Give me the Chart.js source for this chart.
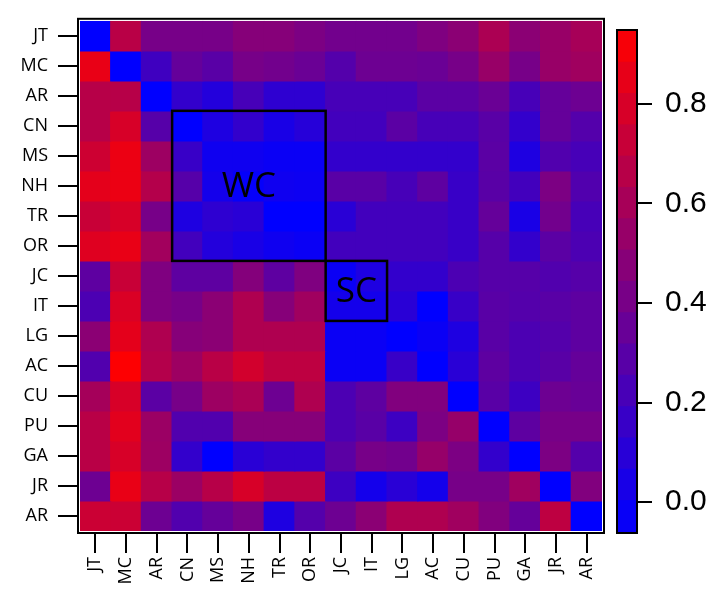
<!DOCTYPE html>
<html>
<head>
<meta charset="utf-8">
<script src="https://cdn.jsdelivr.net/npm/chart.js@4/dist/chart.umd.min.js"></script>
<style>
  body { margin: 0; background: #fff; }
  #heat { position: absolute; left: 0; top: 0; }
  #bar { position: absolute; left: 600px; top: 0; }
</style>
</head>
<body>
<canvas id="heat" width="716" height="590"></canvas>
<canvas id="bar" width="116" height="590"></canvas>
<script>
// row / column names (same order on both axes)
var names = ['JT', 'MC', 'AR', 'CN', 'MS', 'NH', 'TR', 'OR', 'JC', 'IT', 'LG', 'AC', 'CU', 'PU', 'GA', 'JR', 'AR'];

// one array per row, values
var rowJT  = [-0.06, 0.67, 0.41, 0.41, 0.41, 0.47, 0.47, 0.43, 0.39, 0.39, 0.39, 0.44, 0.49, 0.62, 0.49, 0.54, 0.60];
var rowMC  = [0.86, -0.06, 0.19, 0.34, 0.29, 0.41, 0.39, 0.36, 0.27, 0.37, 0.37, 0.36, 0.41, 0.54, 0.41, 0.54, 0.57];
var rowAR1 = [0.66, 0.66, -0.06, 0.14, 0.08, 0.22, 0.12, 0.12, 0.22, 0.22, 0.22, 0.30, 0.30, 0.36, 0.22, 0.34, 0.37];
var rowCN  = [0.66, 0.79, 0.28, -0.06, 0.06, 0.14, 0.04, 0.09, 0.20, 0.20, 0.30, 0.22, 0.22, 0.29, 0.14, 0.34, 0.27];
var rowMS  = [0.75, 0.87, 0.56, 0.16, 0.00, 0.00, -0.02, -0.02, 0.14, 0.14, 0.14, 0.14, 0.14, 0.30, 0.06, 0.26, 0.22];
var rowNH  = [0.84, 0.87, 0.65, 0.28, 0.02, -0.04, 0.00, -0.01, 0.29, 0.29, 0.22, 0.31, 0.16, 0.29, 0.20, 0.43, 0.26];
var rowTR  = [0.73, 0.79, 0.41, 0.06, 0.12, 0.10, -0.06, -0.06, 0.10, 0.20, 0.20, 0.20, 0.16, 0.34, 0.04, 0.39, 0.22];
var rowOR  = [0.82, 0.86, 0.58, 0.20, 0.08, 0.04, 0.00, -0.02, 0.20, 0.20, 0.20, 0.20, 0.16, 0.28, 0.14, 0.30, 0.24];
var rowJC  = [0.31, 0.73, 0.44, 0.31, 0.31, 0.46, 0.31, 0.44, -0.02, 0.06, 0.14, 0.14, 0.24, 0.28, 0.28, 0.26, 0.28];
var rowIT  = [0.24, 0.80, 0.44, 0.41, 0.49, 0.63, 0.47, 0.57, 0.02, 0.02, 0.10, -0.06, 0.16, 0.29, 0.27, 0.29, 0.31];
var rowLG  = [0.49, 0.84, 0.63, 0.47, 0.49, 0.63, 0.63, 0.63, -0.02, -0.02, -0.06, -0.02, 0.06, 0.29, 0.24, 0.27, 0.31];
var rowAC  = [0.26, 0.94, 0.65, 0.56, 0.67, 0.77, 0.69, 0.69, -0.02, -0.02, 0.16, -0.06, 0.10, 0.31, 0.24, 0.29, 0.34];
var rowCU  = [0.59, 0.79, 0.30, 0.41, 0.56, 0.61, 0.37, 0.63, 0.24, 0.31, 0.45, 0.45, -0.06, 0.29, 0.18, 0.37, 0.35];
var rowPU  = [0.67, 0.83, 0.55, 0.26, 0.26, 0.47, 0.47, 0.47, 0.24, 0.29, 0.18, 0.43, 0.53, -0.06, 0.31, 0.41, 0.41];
var rowGA  = [0.67, 0.79, 0.56, 0.14, -0.06, 0.10, 0.14, 0.14, 0.30, 0.41, 0.39, 0.53, 0.43, 0.14, -0.06, 0.43, 0.27];
var rowJR  = [0.37, 0.86, 0.66, 0.55, 0.66, 0.79, 0.68, 0.68, 0.18, 0.02, 0.10, 0.02, 0.41, 0.41, 0.57, -0.06, 0.45];
var rowAR2 = [0.74, 0.74, 0.37, 0.26, 0.34, 0.41, 0.06, 0.27, 0.37, 0.49, 0.63, 0.63, 0.57, 0.45, 0.34, 0.69, -0.06];

var rows = [rowJT, rowMC, rowAR1, rowCN, rowMS, rowNH, rowTR, rowOR, rowJC, rowIT, rowLG, rowAC, rowCU, rowPU, rowGA, rowJR, rowAR2];

// outlined groups (first and last index, inclusive)
var boxLabels = ['WC', 'SC'];
var boxStart = [3, 8];
var boxEnd = [7, 9];

// colour scale
var vMin = -0.06;
var vMax = 0.946;
var cbTicks = [0.0, 0.2, 0.4, 0.6, 0.8];
var cbSteps = 16;

function colorFor(v) {
    var t = (v - vMin) / (vMax - vMin);
    t = Math.max(0, Math.min(1, t));
    return 'rgb(' + Math.round(255 * t) + ',0,' + Math.round(255 * (1 - t)) + ')';
}

var labelFont = { family: 'Open Sans', size: 18 };

// frame around the plot + the WC / SC boxes
var framePlugin = {
    id: 'frame',
    afterDatasetsDraw: function(chart) {
        var ctx = chart.ctx;
        var a = chart.chartArea;
        var xs = chart.scales.x, ys = chart.scales.y;
        ctx.save();
        ctx.strokeStyle = '#fff';
        ctx.lineWidth = 1;
        ctx.strokeRect(a.left - 0.5, a.top - 0.5, a.right - a.left + 1, a.bottom - a.top + 1);
        ctx.strokeStyle = '#000';
        ctx.lineWidth = 2;
        ctx.strokeRect(a.left - 2, a.top - 2, a.right - a.left + 4, a.bottom - a.top + 4);

        ctx.lineWidth = 2.5;
        ctx.font = '35px "Open Sans"';
        ctx.textAlign = 'center';
        ctx.textBaseline = 'middle';
        ctx.fillStyle = '#000';
        var half = (xs.getPixelForValue(1) - xs.getPixelForValue(0)) / 2;
        boxLabels.forEach(function(lab, i) {
            var x0 = xs.getPixelForValue(boxStart[i]) - half;
            var x1 = xs.getPixelForValue(boxEnd[i]) + half;
            var y0 = ys.getPixelForValue(boxStart[i]);
            var y1 = ys.getPixelForValue(boxEnd[i] + 1);
            ctx.strokeRect(x0, y0, x1 - x0, y1 - y0);
            ctx.fillText(lab, (x0 + x1) / 2, (y0 + y1) / 2 + 1);
        });
        ctx.restore();
    }
};

var heatSets = rows.map(function(r, i) {
    return {
        label: names[i],
        data: r.map(function() { return 1; }),
        backgroundColor: r.map(colorFor),
        borderWidth: 0,
        barPercentage: 1,
        categoryPercentage: 1,
        inflateAmount: 0.6
    };
});

new Chart(document.getElementById('heat'), {
    type: 'bar',
    data: { labels: names, datasets: heatSets },
    options: {
        responsive: false,
        animation: false,
        devicePixelRatio: 1,
        layout: { padding: { left: 0, top: 11, right: 114, bottom: 0 } },
        plugins: { legend: { display: false }, tooltip: { enabled: false } },
        scales: {
            x: {
                stacked: true,
                offset: true,
                afterFit: function(axis) { axis.height = 59; },
                grid: { offset: false, drawOnChartArea: false, tickLength: 22, color: '#000', lineWidth: 2 },
                border: { display: false },
                ticks: { color: '#000', font: labelFont, minRotation: 90, maxRotation: 90, padding: 4, autoSkip: false }
            },
            y: {
                stacked: true,
                reverse: true,
                min: 0,
                max: names.length,
                afterFit: function(axis) { axis.width = 80; },
                afterBuildTicks: function(axis) {
                    axis.ticks = names.map(function(n, i) { return { value: i + 0.5 }; });
                },
                grid: { drawOnChartArea: false, tickLength: 22, color: '#000', lineWidth: 2 },
                border: { display: false },
                ticks: {
                    color: '#000', font: labelFont, padding: 10, autoSkip: false,
                    callback: function(v, i) { return names[i]; }
                }
            }
        }
    },
    plugins: [framePlugin]
});

// colour bar
var cbSets = [];
for (var k = 0; k < cbSteps; k++) {
    var lo = vMin + (vMax - vMin) * k / cbSteps;
    var hi = vMin + (vMax - vMin) * (k + 1) / cbSteps;
    cbSets.push({
        data: [[lo, hi]],
        backgroundColor: colorFor((lo + hi) / 2),
        borderWidth: 0,
        barPercentage: 1,
        categoryPercentage: 1,
        grouped: false,
        inflateAmount: 0.6
    });
}

var barFrame = {
    id: 'barFrame',
    afterDatasetsDraw: function(chart) {
        var a = chart.chartArea;
        var ctx = chart.ctx;
        ctx.save();
        ctx.strokeStyle = '#000';
        ctx.lineWidth = 2;
        ctx.strokeRect(a.left - 1, a.top - 1, a.right - a.left + 2, a.bottom - a.top + 2);
        ctx.restore();
    }
};

new Chart(document.getElementById('bar'), {
    type: 'bar',
    data: { labels: [''], datasets: cbSets },
    options: {
        responsive: false,
        animation: false,
        devicePixelRatio: 1,
        layout: { padding: { left: 18, top: 10, right: 0, bottom: 58 } },
        plugins: { legend: { display: false }, tooltip: { enabled: false } },
        scales: {
            x: { display: false },
            y: {
                position: 'right',
                min: vMin,
                max: vMax,
                afterFit: function(axis) { axis.width = 80; },
                afterBuildTicks: function(axis) {
                    axis.ticks = cbTicks.map(function(v) { return { value: v }; });
                },
                grid: { drawOnChartArea: false, tickLength: 16, color: '#000', lineWidth: 2 },
                border: { display: false },
                ticks: {
                    color: '#000', font: { family: 'Liberation Sans', size: 30 }, padding: 13,
                    callback: function(v) { return v.toFixed(1); }
                }
            }
        }
    },
    plugins: [barFrame]
});
</script>
</body>
</html>
